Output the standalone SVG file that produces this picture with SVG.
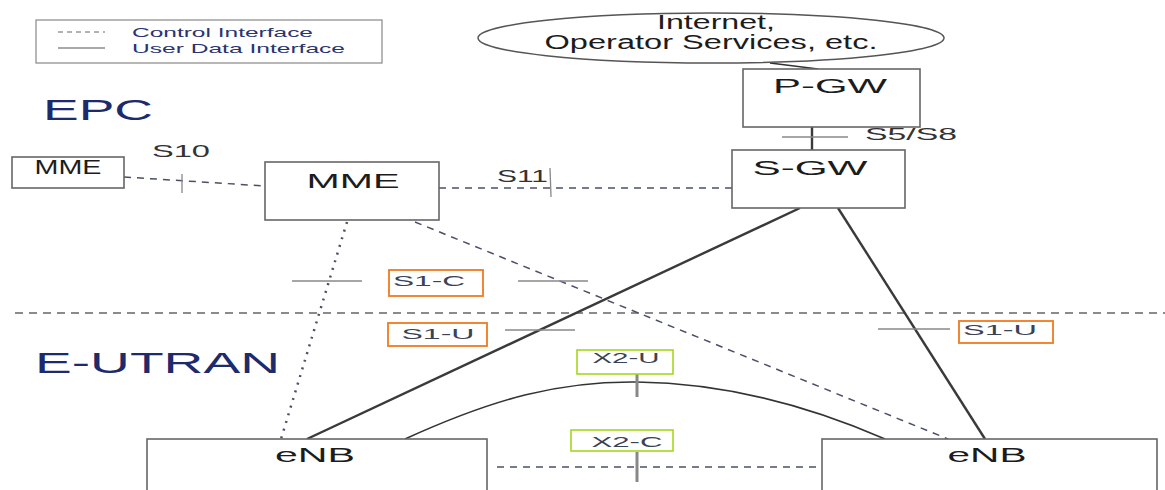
<svg xmlns="http://www.w3.org/2000/svg" width="1165" height="490" viewBox="0 0 1165 490">
  <style>
    .box { fill: #fff; stroke: #666; stroke-width: 1.6; }
    .node-label { font-family: "Liberation Sans", Arial, sans-serif; font-size: 20px; fill: #1c1c1c; text-anchor: middle; }
    .iface { font-family: "Liberation Sans", Arial, sans-serif; font-size: 17px; fill: #333; }
    .domain { font-family: "Liberation Sans", Arial, sans-serif; font-size: 30px; fill: #1d2a6b; }
    .legend-text { font-family: "Liberation Sans", Arial, sans-serif; font-size: 13px; fill: #2a3470; }
    .ctrl { fill: none; stroke: #4a5068; stroke-width: 1.5; stroke-dasharray: 7 6; }
    .dotted { fill: none; stroke: #4a5068; stroke-width: 2.5; stroke-dasharray: 2 6; }
    .user { fill: none; stroke: #333; stroke-width: 1.6; }
    .user-thick { fill: none; stroke: #3a3a3a; stroke-width: 2.4; }
    .tick { fill: none; stroke: #888; stroke-width: 1.3; }
    .tick-v { fill: none; stroke: #888; stroke-width: 3; }
    .tag-s1 { fill: #fff; stroke: #f07a1e; stroke-width: 1.8; }
    .tag-x2 { fill: #fff; stroke: #a6d61e; stroke-width: 1.6; }
    .tag-text { font-family: "Liberation Sans", Arial, sans-serif; font-size: 15px; fill: #3a4256; text-anchor: middle; }
  </style>

  <!-- legend -->
  <g id="legend">
    <rect x="36" y="20" width="346" height="43" fill="#fff" stroke="#888" stroke-width="1.2"/>
    <line x1="58" y1="32" x2="105" y2="32" stroke="#666" stroke-width="1" stroke-dasharray="5 4"/>
    <line x1="58" y1="48" x2="105" y2="48" stroke="#555" stroke-width="1.2"/>
    <text class="legend-text" x="132" y="37" textLength="181" lengthAdjust="spacingAndGlyphs">Control Interface</text>
    <text class="legend-text" x="132" y="53" textLength="213" lengthAdjust="spacingAndGlyphs">User Data Interface</text>
  </g>

  <!-- domain labels -->
  <text class="domain" x="43" y="120" textLength="110" lengthAdjust="spacingAndGlyphs">EPC</text>
  <text class="domain" x="35" y="373" textLength="245" lengthAdjust="spacingAndGlyphs">E-UTRAN</text>

  <!-- EPC / E-UTRAN boundary -->
  <line x1="15" y1="313" x2="1165" y2="313" stroke="#666" stroke-width="1.5" stroke-dasharray="8 6"/>

  <!-- connectors -->
  <g id="connectors">
    <!-- Internet to P-GW -->
    <line class="user" x1="770" y1="63" x2="818" y2="69"/>
    <!-- S5/S8 -->
    <line class="user-thick" x1="812" y1="127" x2="812" y2="150"/>
    <line class="tick" x1="782" y1="137" x2="848" y2="137"/>
    <!-- S10 -->
    <line class="ctrl" x1="124" y1="177" x2="265" y2="186"/>
    <line class="tick" x1="182" y1="174" x2="182" y2="193" stroke-width="2"/>
    <!-- S11 -->
    <line class="ctrl" x1="439" y1="188" x2="732" y2="188"/>
    <line class="tick" x1="550" y1="168" x2="551" y2="197" stroke-width="2"/>
    <!-- S1-C -->
    <line class="dotted" x1="347" y1="222" x2="281" y2="439"/>
    <line class="ctrl" x1="415" y1="222" x2="948" y2="439"/>
    <line class="tick" x1="292" y1="281" x2="362" y2="281"/>
    <line class="tick" x1="518" y1="281" x2="588" y2="281"/>
    <!-- S1-U -->
    <line class="user-thick" x1="800" y1="208" x2="307" y2="439"/>
    <line class="user-thick" x1="838" y1="208" x2="985" y2="439" stroke-width="2.8"/>
    <line class="tick" x1="505" y1="330" x2="575" y2="330"/>
    <line class="tick" x1="878" y1="329" x2="950" y2="329"/>
    <!-- X2-U -->
    <path class="user" d="M 405 439 C 495 398, 560 381, 637 382 C 720 383, 800 402, 885 439"/>
    <line class="tick-v" x1="637" y1="370" x2="637" y2="397"/>
    <!-- X2-C -->
    <line class="ctrl" x1="497" y1="467" x2="822" y2="467" stroke="#888"/>
    <line class="tick-v" x1="637" y1="452" x2="637" y2="482"/>
  </g>

  <!-- interface tags -->
  <g id="tag-s1c">
    <rect class="tag-s1" x="389" y="270" width="94" height="26"/>
    <text class="tag-text" x="429" y="286" textLength="72" lengthAdjust="spacingAndGlyphs">S1-C</text>
  </g>
  <g id="tag-s1u-left">
    <rect class="tag-s1" x="388" y="323" width="99" height="23"/>
    <text class="tag-text" x="438" y="339" textLength="73" lengthAdjust="spacingAndGlyphs">S1-U</text>
  </g>
  <g id="tag-s1u-right">
    <rect class="tag-s1" x="959" y="321" width="94" height="22"/>
    <text class="tag-text" x="1000" y="335" textLength="74" lengthAdjust="spacingAndGlyphs">S1-U</text>
  </g>
  <g id="tag-x2u">
    <rect class="tag-x2" x="577" y="350" width="96" height="24"/>
    <text class="tag-text" x="626" y="363" textLength="67" lengthAdjust="spacingAndGlyphs">X2-U</text>
  </g>
  <g id="tag-x2c">
    <rect class="tag-x2" x="571" y="430" width="102" height="21"/>
    <text class="tag-text" x="627" y="447" textLength="71" lengthAdjust="spacingAndGlyphs">X2-C</text>
  </g>

  <!-- nodes -->
  <g id="internet">
    <ellipse cx="711" cy="38" rx="233" ry="25" fill="#fff" stroke="#555" stroke-width="1.5"/>
    <text class="node-label" x="716" y="29" font-size="14" textLength="118" lengthAdjust="spacingAndGlyphs">Internet,</text>
    <text class="node-label" x="711" y="49" font-size="14" fill="#333" textLength="333" lengthAdjust="spacingAndGlyphs">Operator Services, etc.</text>
  </g>
  <g id="pgw">
    <rect class="box" x="743" y="69" width="177" height="58"/>
    <text class="node-label" x="830" y="93" textLength="114" lengthAdjust="spacingAndGlyphs">P-GW</text>
  </g>
  <g id="sgw">
    <rect class="box" x="732" y="150" width="173" height="58"/>
    <text class="node-label" x="810" y="175" textLength="115" lengthAdjust="spacingAndGlyphs">S-GW</text>
  </g>
  <g id="mme-remote">
    <rect class="box" x="12" y="157" width="112" height="31"/>
    <text class="node-label" x="68" y="174" font-size="14" fill="#888" textLength="67" lengthAdjust="spacingAndGlyphs">MME</text>
  </g>
  <g id="mme">
    <rect class="box" x="265" y="162" width="174" height="58"/>
    <text class="node-label" x="353" y="188" textLength="93" lengthAdjust="spacingAndGlyphs">MME</text>
  </g>
  <g id="enb-left">
    <rect class="box" x="147" y="439" width="340" height="60"/>
    <text class="node-label" x="315" y="462" font-size="18" textLength="80" lengthAdjust="spacingAndGlyphs">eNB</text>
  </g>
  <g id="enb-right">
    <rect class="box" x="822" y="439" width="335" height="60"/>
    <text class="node-label" x="987" y="462" font-size="18" textLength="79" lengthAdjust="spacingAndGlyphs">eNB</text>
  </g>

  <!-- interface names -->
  <text class="iface" x="152" y="157" font-size="17" textLength="58" lengthAdjust="spacingAndGlyphs">S10</text>
  <text class="iface" x="497" y="182" font-size="17" textLength="51" lengthAdjust="spacingAndGlyphs">S11</text>
  <text class="iface" x="865" y="140" font-size="13" fill="#777" textLength="92" lengthAdjust="spacingAndGlyphs">S5/S8</text>
</svg>
